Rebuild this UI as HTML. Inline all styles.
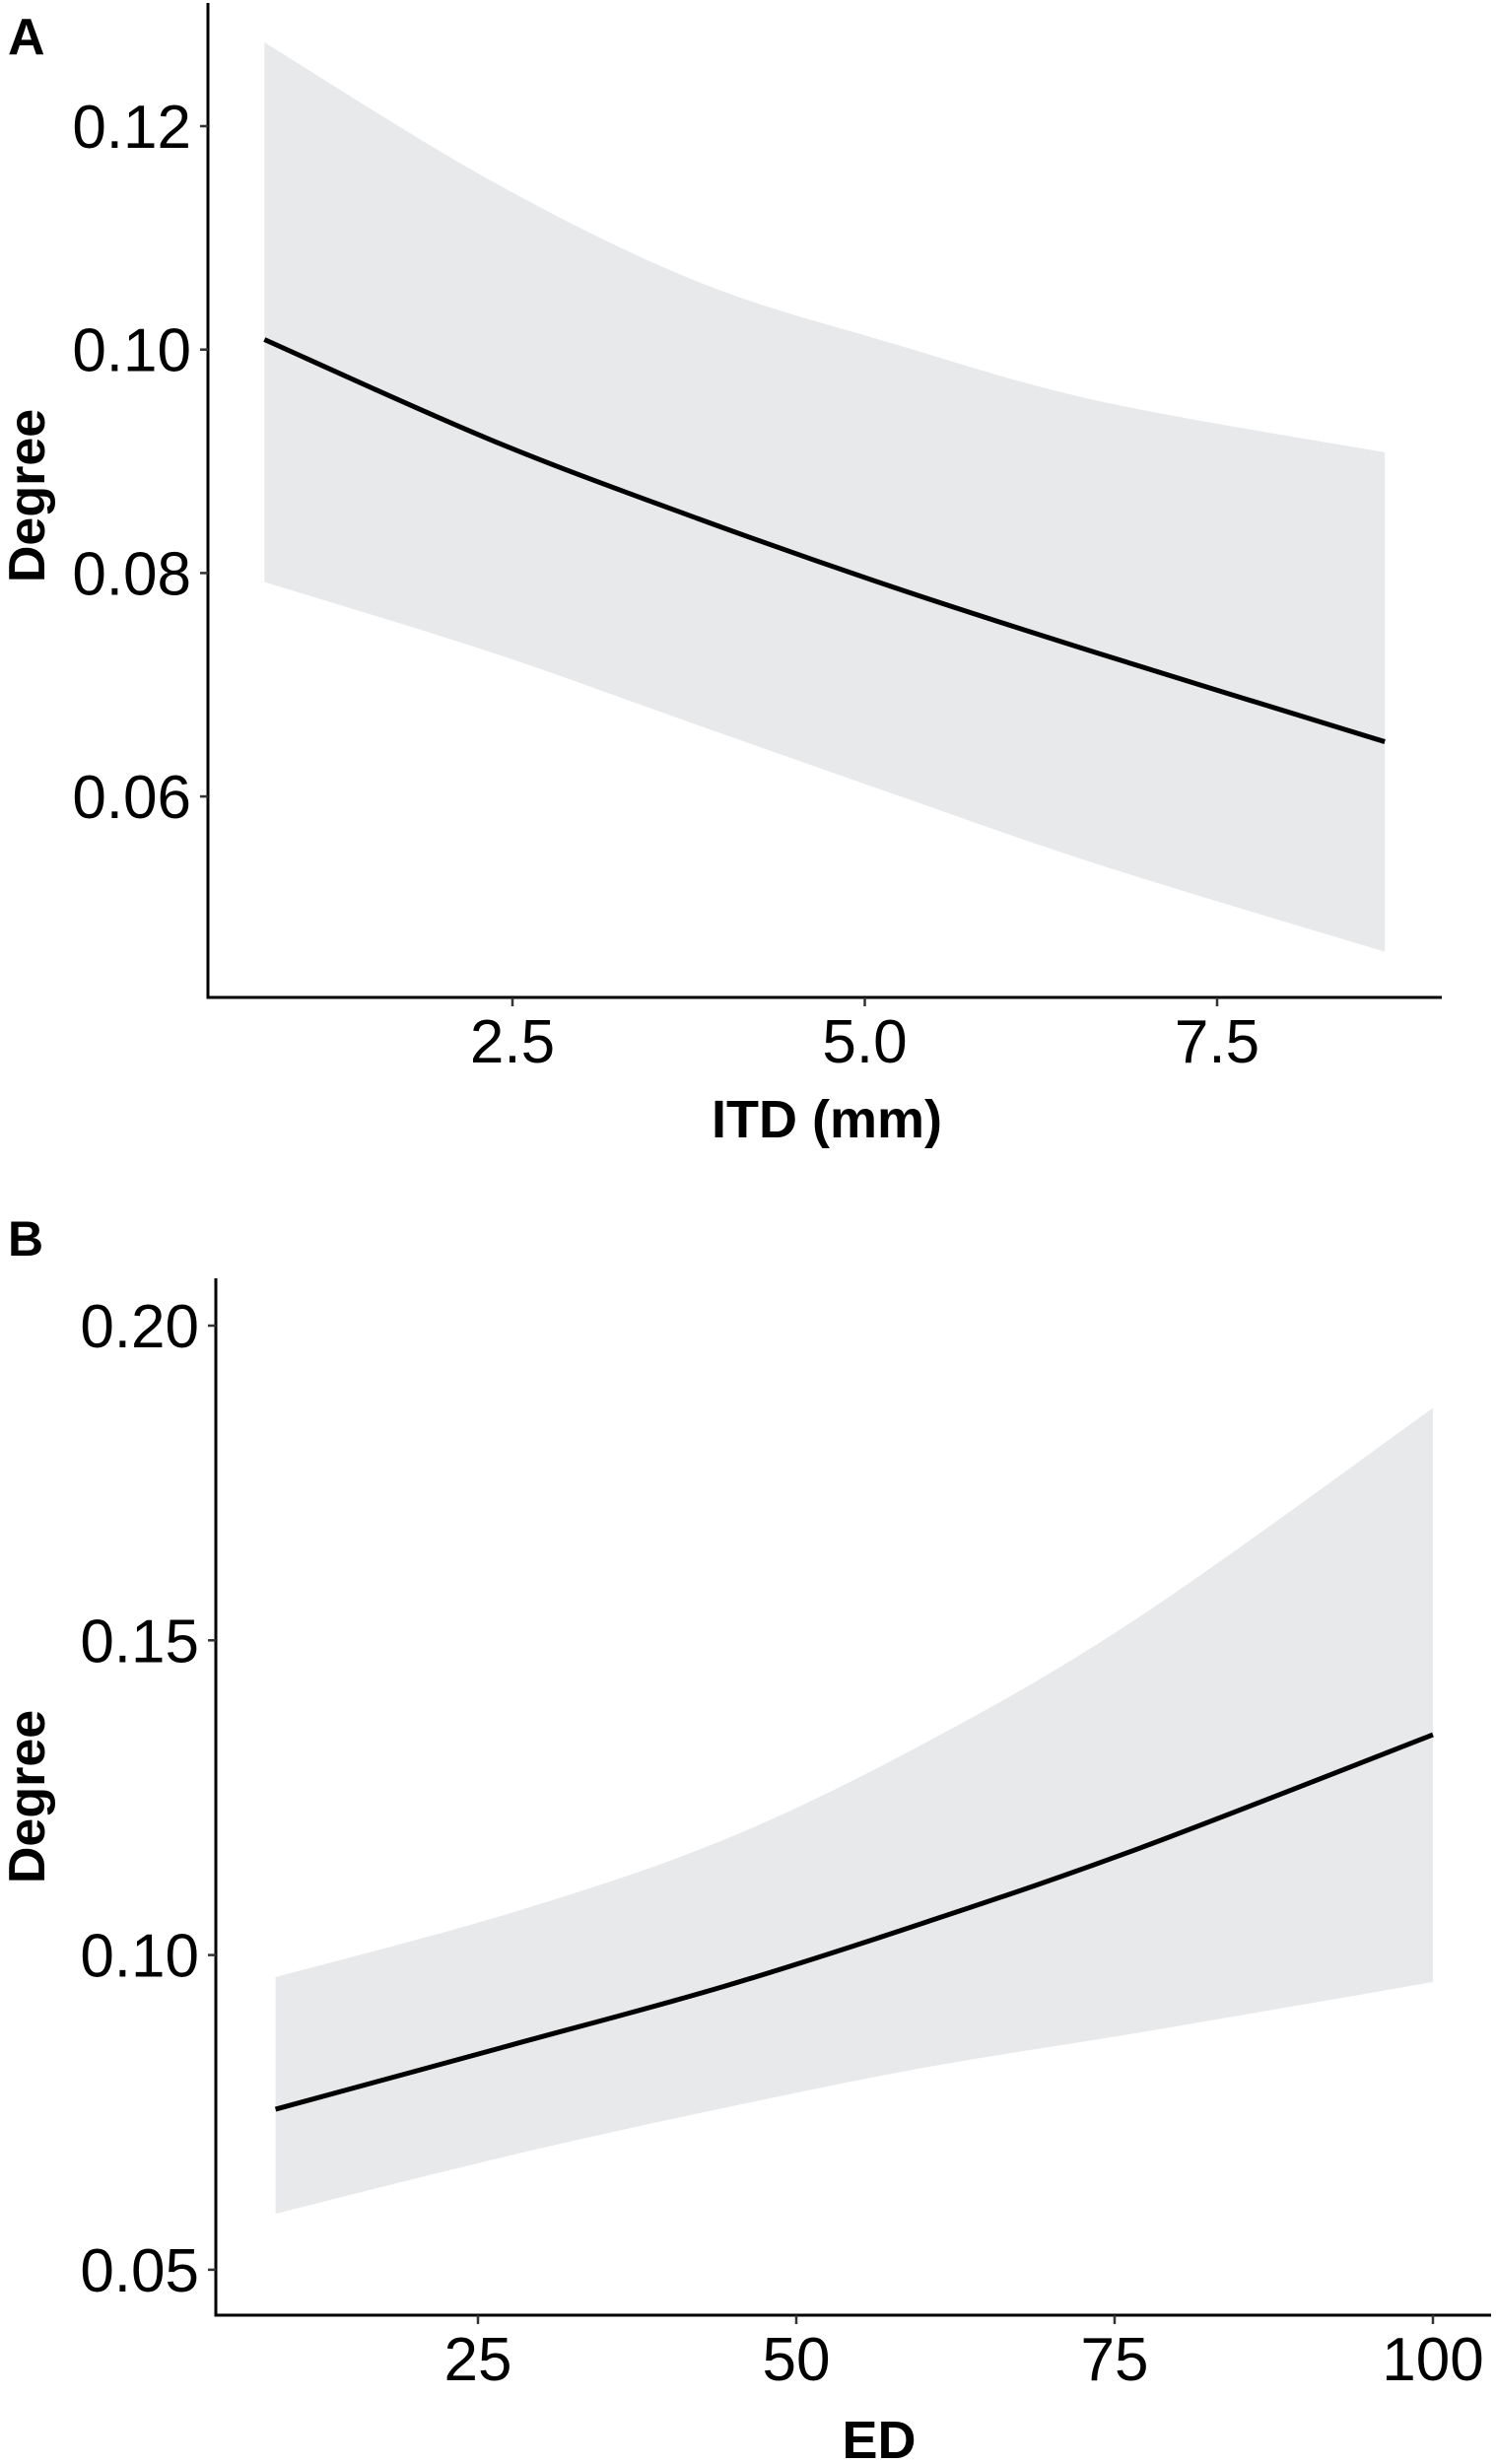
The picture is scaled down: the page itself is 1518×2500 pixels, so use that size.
<!DOCTYPE html>
<html><head><meta charset="utf-8">
<style>
html,body{margin:0;padding:0;background:#fff;}
svg{display:block;font-family:"Liberation Sans",Arial,sans-serif;}
</style></head>
<body>
<svg id="chart" width="1518" height="2500" viewBox="0 0 1518 2500" xmlns="http://www.w3.org/2000/svg">
  <text x="8" y="55" font-size="52" font-weight="bold">A</text>
  <text x="8" y="1274" font-size="50" font-weight="bold">B</text>
  <g id="panelA"></g>
  <g id="panelB"></g>
</svg>
<script>
// Panel A data
const aX = [0.74, 2.35, 3.81, 5.21, 6.66, 8.69];
const aFit = [0.1009, 0.0919, 0.0849, 0.0787, 0.0728, 0.0649];
const aUpper = [0.1275, 0.1151, 0.1061, 0.1005, 0.0954, 0.0908];
const aLower = [0.0792, 0.0729, 0.0664, 0.0602, 0.0539, 0.0461];
const aXTicks = [2.5, 5.0, 7.5];
const aXTickLabels = ["2.5", "5.0", "7.5"];
const aYTicks = [0.06, 0.08, 0.10, 0.12];
const aYTickLabels = ["0.06", "0.08", "0.10", "0.12"];

// Panel B data
const bX = [9.1, 27.6, 44.3, 60.3, 77, 100];
const bFit = [0.0755, 0.0857, 0.0950, 0.1053, 0.1170, 0.1350];
const bUpper = [0.0965, 0.1067, 0.1183, 0.1339, 0.1538, 0.1869];
const bLower = [0.0589, 0.0682, 0.0757, 0.0822, 0.0877, 0.0957];
const bXTicks = [25, 50, 75, 100];
const bXTickLabels = ["25", "50", "75", "100"];
const bYTicks = [0.05, 0.10, 0.15, 0.20];
const bYTickLabels = ["0.05", "0.10", "0.15", "0.20"];

const NS = "http://www.w3.org/2000/svg";
function mk(tag, attrs, parent) {
  const el = document.createElementNS(NS, tag);
  for (const k in attrs) el.setAttribute(k, attrs[k]);
  parent.appendChild(el);
  return el;
}
function smooth(pts) {
  let d = "M" + pts[0][0] + "," + pts[0][1];
  for (let i = 0; i < pts.length - 1; i++) {
    const p0 = pts[i - 1] || pts[i], p1 = pts[i], p2 = pts[i + 1], p3 = pts[i + 2] || p2;
    const c1x = p1[0] + (p2[0] - p0[0]) / 6, c1y = p1[1] + (p2[1] - p0[1]) / 6;
    const c2x = p2[0] - (p3[0] - p1[0]) / 6, c2y = p2[1] - (p3[1] - p1[1]) / 6;
    d += " C" + c1x + "," + c1y + " " + c2x + "," + c2y + " " + p2[0] + "," + p2[1];
  }
  return d;
}
function smoothCont(pts) { return smooth(pts).replace(/^M/, "L"); }

function drawPanel(g, cfg) {
  const sx = v => cfg.x0px + (v - cfg.x0v) * cfg.xk;
  const sy = v => cfg.y0px - (v - cfg.y0v) * cfg.yk;
  const up = cfg.xs.map((x, i) => [sx(x), sy(cfg.upper[i])]);
  const lo = cfg.xs.map((x, i) => [sx(x), sy(cfg.lower[i])]).reverse();
  const band = mk("path", {d: smooth(up) + " " + smoothCont(lo) + " Z", fill: "#e8e9eb"}, g);
  
  
  const fitPts = cfg.xs.map((x, i) => [sx(x), sy(cfg.fit[i])]);
  const line = mk("path", {d: smooth(fitPts), fill: "none", stroke: "#000", "stroke-width": 5}, g);
  
  
  const ya = mk("line", {x1: cfg.axX, y1: cfg.axTop, x2: cfg.axX, y2: cfg.axY + 1.5, stroke: "#000", "stroke-width": 3}, g);
  
  
  const xa = mk("line", {x1: cfg.axX - 1.5, y1: cfg.axY, x2: cfg.axRight, y2: cfg.axY, stroke: "#000", "stroke-width": 3}, g);
  
  
  cfg.xTicks.forEach((t, i) => {
    const x = sx(t);
    const tk = mk("line", {x1: x, y1: cfg.axY, x2: x, y2: cfg.axY + 9, stroke: "#333", "stroke-width": 2.5}, g);
    
    
    const tl = mk("text", {x: x, y: cfg.axY + 66, "font-size": 62, "text-anchor": "middle"}, g);
    tl.textContent = cfg.xLabels[i];
    
    
  });
  cfg.yTicks.forEach((t, i) => {
    const y = sy(t);
    const tk = mk("line", {x1: cfg.axX - 8, y1: y, x2: cfg.axX, y2: y, stroke: "#333", "stroke-width": 2.5}, g);
    
    
    const tl = mk("text", {x: cfg.axX - 17, y: y + 22, "font-size": 62, "text-anchor": "end"}, g);
    tl.textContent = cfg.yLabels[i];
    
    
  });
  const xt = mk("text", {x: cfg.xTitleX, y: cfg.xTitleY, "font-size": 54, "font-weight": "bold", "text-anchor": "middle"}, g);
  xt.textContent = cfg.xTitle;
  
  
  const yt = mk("text", {x: 0, y: 0, "font-size": 52, "font-weight": "bold", "text-anchor": "middle",
    transform: "translate(45," + cfg.yTitleY + ") rotate(-90)"}, g);
  yt.textContent = "Degree";
  
  
}

drawPanel(document.getElementById("panelA"), {
  xs: aX, fit: aFit, upper: aUpper, lower: aLower,
  x0v: 2.5, x0px: 520, xk: 357.5 / 2.5,
  y0v: 0.12, y0px: 128, yk: 226.7 / 0.02,
  axX: 211, axTop: 3, axY: 1012, axRight: 1463,
  xTicks: aXTicks, xLabels: aXTickLabels, yTicks: aYTicks, yLabels: aYTickLabels,
  xTitle: "ITD (mm)", xTitleX: 839, xTitleY: 1154, yTitleY: 503
});
drawPanel(document.getElementById("panelB"), {
  xs: bX, fit: bFit, upper: bUpper, lower: bLower,
  x0v: 25, x0px: 485, xk: 323 / 25,
  y0v: 0.20, y0px: 1345, yk: 319.3 / 0.05,
  axX: 219, axTop: 1297, axY: 2349, axRight: 1513,
  xTicks: bXTicks, xLabels: bXTickLabels, yTicks: bYTicks, yLabels: bYTickLabels,
  xTitle: "ED", xTitleX: 892, xTitleY: 2494, yTitleY: 1823
});
</script>
</body></html>
